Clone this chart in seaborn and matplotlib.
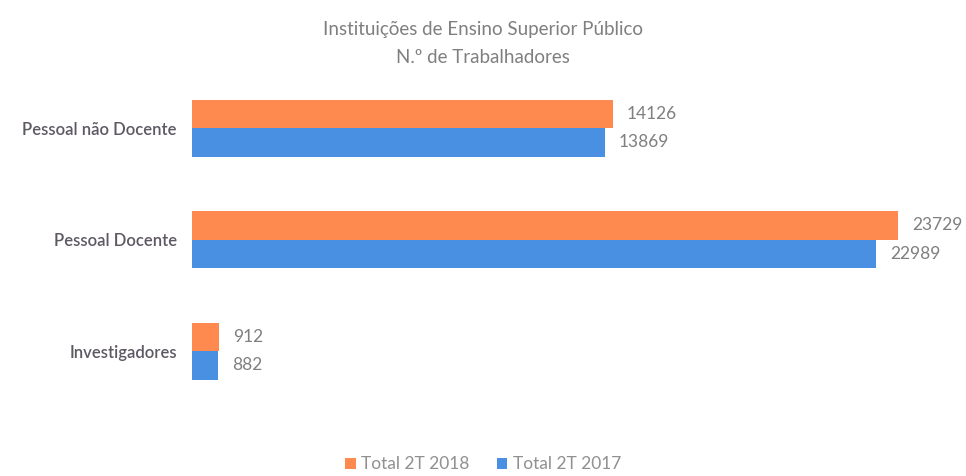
import pandas as pd
import seaborn as sns
import matplotlib.pyplot as plt

categorias = ["Pessoal não Docente", "Pessoal Docente", "Investigadores"]
series = ["Total 2T 2018", "Total 2T 2017"]
valores_2018 = [14126, 23729, 912]
valores_2017 = [13869, 22989, 882]

df = pd.DataFrame({
    "Categoria": categorias * 2,
    "Serie": [series[0]] * 3 + [series[1]] * 3,
    "Valor": valores_2018 + valores_2017,
})

sns.set_style("white")
plt.rcParams["font.family"] = ["Lato", "DejaVu Sans"]
cinza = "#7f7f7f"

fig = plt.figure(figsize=(9.66, 4.76), dpi=100)
ax = fig.add_axes([0.199, 0.145, 0.77, 0.703])

sns.barplot(data=df, y="Categoria", x="Valor", hue="Serie", order=categorias,
            hue_order=series, palette=["#FF8A50", "#4A90E2"], width=0.51,
            saturation=1, linewidth=0, orient="h", ax=ax, legend=True)

for cont in ax.containers:
    ax.bar_label(cont, labels=[str(int(v)) for v in cont.datavalues],
                 padding=10, fontsize=12.5, color=cinza)

ax.set_xlim(0, 25000)
ax.set_ylim(2.5, -0.5)
ax.set_xlabel("")
ax.set_ylabel("")
ax.set_xticks([])
ax.tick_params(axis="y", length=0, pad=11, labelsize=12, labelcolor="#5d5862")
for t in ax.get_yticklabels():
    t.set_fontweight("semibold")
sns.despine(ax=ax, left=True, bottom=True)

fig.text(0.5, 0.937, "Instituições de Ensino Superior Público", ha="center",
         va="center", fontsize=13.5, color=cinza)
fig.text(0.5, 0.880, "N.º de Trabalhadores", ha="center", va="center",
         fontsize=13.5, color=cinza)

ax.legend_.remove()
fig.legend(*ax.get_legend_handles_labels(), loc="lower center",
           bbox_to_anchor=(0.5, -0.025), ncol=2, frameon=False, fontsize=12.5,
           handlelength=0.6, handleheight=0.6, handletextpad=0.3,
           columnspacing=1.6, labelcolor="#909090")

fig.savefig("out.png", dpi=100)
